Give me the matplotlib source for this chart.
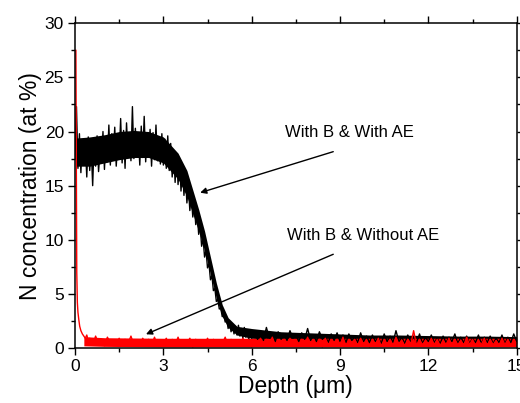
import numpy as np
import matplotlib
matplotlib.use('Agg')
import matplotlib.pyplot as plt
from matplotlib.ticker import MultipleLocator

plt.rcParams['font.family'] = ['Liberation Sans', 'DejaVu Sans']

# --- dados ---
# With B & With AE (preto): 0-6 um a cada 0.05, depois 6.1-15 a cada 0.1
com_ae_y = [
    17.5, 22.3, 16.6, 19.8, 16.2, 19.2, 17.0, 18.9, 15.8, 19.5,
    16.4, 18.6, 15.0, 19.1, 16.8, 19.6, 16.3, 18.2, 17.4, 20.0,
    16.5, 19.4, 17.2, 20.6, 16.9, 19.8, 17.6, 20.4, 16.8, 19.0,
    17.5, 21.2, 17.1, 20.1, 16.6, 20.8, 17.8, 19.6, 17.3, 22.3,
    17.5, 20.3, 17.9, 19.8, 16.9, 20.5, 17.6, 21.4, 17.2, 19.7,
    18.0, 20.2, 16.8, 19.9, 17.4, 20.6, 17.3, 19.5, 17.0, 19.8,
    16.9, 19.3, 16.6, 19.6, 16.4, 18.9, 15.8, 18.1, 15.3, 17.9,
    15.1, 17.4, 14.5, 16.7, 14.1, 16.1, 13.4, 15.0, 12.7, 14.1,
    12.1, 13.4, 11.4, 12.4, 10.5, 11.3, 9.4, 10.1, 8.4, 9.0,
    7.4, 7.8, 6.3, 6.7, 5.3, 5.5, 4.3, 4.5, 3.6, 3.7,
    2.9, 3.3, 2.4, 2.7, 1.8, 2.4, 1.5, 2.2, 1.3, 2.0,
    1.2, 2.1, 1.1, 1.8, 0.9, 1.9, 1.0, 1.6, 0.8, 1.7,
    0.9,
    1.6, 0.8, 1.4, 0.7, 1.9, 0.9, 1.3, 0.6, 1.5, 0.8,
    1.3, 0.7, 1.6, 0.9, 1.2, 0.6, 1.4, 0.8, 1.8, 0.7,
    1.2, 0.6, 1.5, 0.8, 1.1, 0.5, 1.3, 0.7, 1.4, 0.6,
    1.2, 0.5, 1.3, 0.7, 1.0, 0.5, 1.4, 0.6, 1.1, 0.5,
    1.2, 0.6, 1.0, 0.4, 1.3, 0.6, 1.1, 0.5, 1.6, 0.6,
    1.0, 0.4, 1.2, 0.6, 1.1, 0.5, 1.3, 0.4, 1.0, 0.6,
    1.2, 0.5, 0.9, 0.4, 1.1, 0.5, 1.0, 0.6, 1.3, 0.4,
    1.0, 0.5, 1.1, 0.4, 0.9, 0.5, 1.2, 0.4, 1.0, 0.5,
    1.1, 0.4, 0.9, 0.5, 1.2, 0.4, 1.0, 0.5, 1.3, 0.6,
]
com_ae_x = np.concatenate([np.linspace(0, 6, 121), np.linspace(6.1, 15, 90)])

# faixa densa do ruído (preto)
faixa_preta_x = [0.05, 0.5, 1.0, 1.5, 2.0, 2.5, 3.0, 3.5, 3.8, 4.0, 4.2, 4.4, 4.6,
                 4.8, 5.0, 5.2, 5.5, 6.0, 7, 8, 9, 10, 11, 12, 13, 14, 15]
faixa_preta_inf = [16.8, 16.8, 17.1, 17.4, 17.6, 17.6, 17.1, 15.6, 14.0, 12.4, 10.8, 9.0, 6.8,
                   4.6, 2.9, 1.9, 1.2, 0.9, 0.75, 0.7, 0.6, 0.55, 0.5, 0.5, 0.45, 0.45, 0.4]
faixa_preta_sup = [19.4, 19.5, 19.7, 20.0, 20.1, 20.0, 19.5, 18.0, 16.4, 14.6, 12.8, 10.8, 8.4,
                   6.0, 4.0, 2.8, 2.0, 1.8, 1.5, 1.4, 1.3, 1.2, 1.2, 1.15, 1.1, 1.1, 1.05]

# With B & Without AE (vermelho): inicio fino, depois 0.5-15 a cada 0.1
sem_ae_x0 = [0.03, 0.04, 0.05, 0.06, 0.08, 0.10, 0.13, 0.16, 0.20, 0.25, 0.30, 0.35, 0.40, 0.45]
sem_ae_y0 = [27.5, 20.0, 12.0, 7.0, 4.2, 3.3, 2.6, 2.0, 1.6, 1.3, 1.1, 0.9, 1.2, 0.7]
sem_ae_y1 = [
    0.9, 0.3, 1.1, 0.4, 0.8, 0.2, 1.0, 0.5, 0.7, 0.3,
    0.9, 0.2, 0.8, 0.4, 1.1, 0.3, 0.7, 0.2, 0.9, 0.4,
    0.8, 0.3, 1.0, 0.2, 0.7, 0.4, 0.9, 0.2, 0.8, 0.3,
    1.0, 0.2, 0.7, 0.4, 0.9, 0.1, 0.8, 0.3, 0.7, 0.2,
    0.9, 0.3, 0.8, 0.2, 0.7, 0.4, 1.0, 0.2, 0.8, 0.3,
    0.7, 0.2, 0.9, 0.3, 0.8, 0.1, 0.7, 0.3, 0.9, 0.2,
    0.8, 0.3, 1.0, 0.2, 0.7, 0.3, 0.8, 0.2, 0.9, 0.3,
    0.7, 0.2, 0.8, 0.3, 1.0, 0.2, 0.7, 0.3, 0.8, 0.1,
    0.9, 0.3, 0.7, 0.2, 0.8, 0.3, 1.0, 0.2, 0.7, 0.3,
    0.8, 0.2, 0.9, 0.3, 0.7, 0.1, 0.8, 0.3, 0.9, 0.2,
    0.7, 0.3, 0.8, 0.2, 1.0, 0.3, 0.7, 0.2, 0.8, 0.3,
    1.6, 0.2, 0.8, 0.3, 0.7, 0.2, 0.9, 0.3, 0.8, 0.2,
    0.7, 0.3, 0.9, 0.2, 0.8, 0.3, 0.7, 0.2, 1.0, 0.3,
    0.8, 0.2, 0.7, 0.3, 0.9, 0.2, 0.8, 0.3, 0.7, 0.2,
    0.9, 0.3, 0.8, 0.2, 0.7, 0.4,
]
sem_ae_x = np.concatenate([sem_ae_x0, np.linspace(0.5, 15, 146)])
sem_ae_y = sem_ae_y0 + sem_ae_y1

# faixa densa do ruído (vermelho)
faixa_verm_x = [0.3, 1, 3, 6, 9, 12, 15]
faixa_verm_inf = [0.2, 0.15, 0.1, 0.1, 0.1, 0.1, 0.1]
faixa_verm_sup = [1.05, 0.95, 0.9, 0.9, 0.9, 0.9, 0.9]

# --- figura ---
fig = plt.figure(figsize=(5.2, 4.03), dpi=100)
ax = fig.add_axes([75 / 520, 1 - 348 / 403, 441.7 / 520, 324.7 / 403])

ax.fill_between(faixa_preta_x, faixa_preta_inf, faixa_preta_sup, color='black', lw=0)
ax.plot(com_ae_x, com_ae_y, color='black', lw=1.0)
ax.fill_between(faixa_verm_x, faixa_verm_inf, faixa_verm_sup, color='red', lw=0)
ax.plot(sem_ae_x, sem_ae_y, color='red', lw=1.0)

ax.set_xlim(0, 15)
ax.set_ylim(0, 30)
ax.xaxis.set_major_locator(MultipleLocator(3))
ax.xaxis.set_minor_locator(MultipleLocator(1.5))
ax.yaxis.set_major_locator(MultipleLocator(5))
ax.yaxis.set_minor_locator(MultipleLocator(2.5))
ax.tick_params(which='both', direction='out', top=True, right=True,
               labelsize=12.5, width=1, pad=3)
ax.tick_params(which='major', length=5)
ax.tick_params(which='minor', length=3)
for s in ax.spines.values():
    s.set_linewidth(1.1)

ax.set_xlabel('Depth (\u03bcm)', fontsize=16.5, labelpad=1)
ax.set_ylabel('N concentration (at %)', fontsize=16.5, labelpad=2)

# anotações com setas
seta = dict(arrowstyle='-|>', color='black', lw=1, mutation_scale=9,
            shrinkA=0, shrinkB=0)
ax.annotate('', xy=(4.25, 14.35), xytext=(8.77, 18.14), arrowprops=seta)
ax.annotate('', xy=(2.41, 1.27), xytext=(8.77, 8.66), arrowprops=seta)
ax.text(9.33, 19.9, 'With B & With AE', fontsize=12, ha='center', va='center')
ax.text(9.78, 10.44, 'With B & Without AE', fontsize=12, ha='center', va='center')

fig.savefig('out.png', dpi=100)
